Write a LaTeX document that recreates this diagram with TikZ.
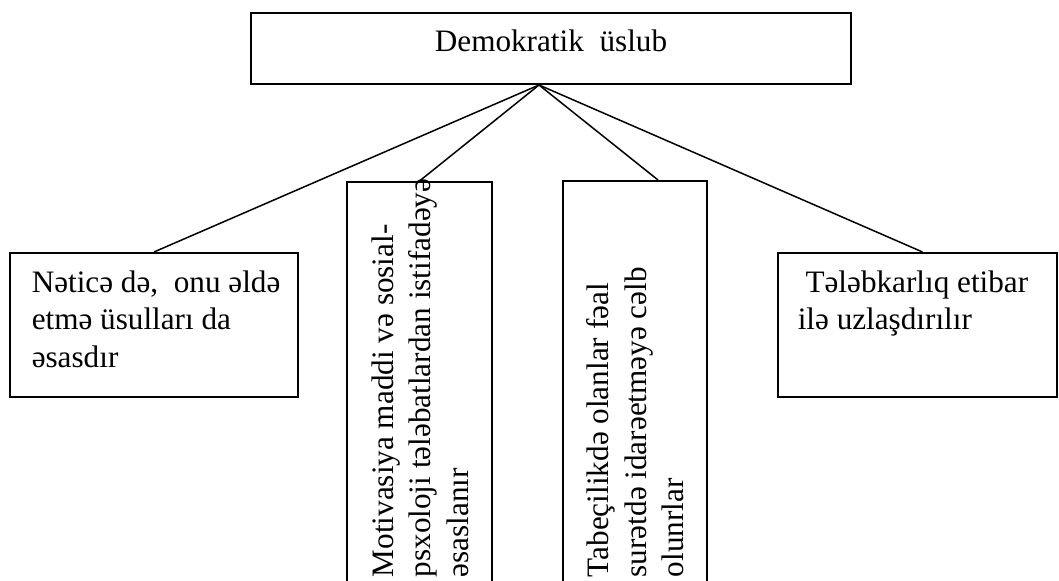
\documentclass[tikz,border=0pt]{standalone}
\usepackage{fontspec}
\setmainfont{Liberation Serif}
\tikzset{every picture/.style={line width=.75pt}}

\begin{document}
\begin{tikzpicture}[x=.5pt,y=-.5pt,
  every node/.style={font=\fontsize{15.6}{18.7}\selectfont},
  box/.style={draw=black,line width=1pt,inner sep=0pt},
  txt/.style={inner sep=0pt,align=left,anchor=north west},
  vtxt/.style={txt,rotate=90},
  spoke/.style={black,line width=.75pt}]

  \useasboundingbox (0,0) rectangle (1059,581);
  \clip (0,0) rectangle (1059,581);

  % Head box and the four branches.
  \node[box,minimum width=300pt,minimum height=35.5pt,text depth=7.75pt]
    (top) at (551,48.5) {Demokratik\ \ üslub};
  \node[box,minimum width=144pt,minimum height=72pt] (b1) at (154,325) {};
  \node[box,minimum width=72.5pt,minimum height=259pt] (b2) at (419.5,441) {};
  \node[box,minimum width=72pt,minimum height=259.5pt] (b3) at (635,440.5) {};
  \node[box,minimum width=139.5pt,minimum height=72pt] (b4) at (917.5,325) {};

  % Box texts; the two middle ones run upwards.
  \node[txt] (t1) at (31,270)
    {Nəticə də,\ \ onu əldə\\etmə üsulları da\\əsasdır};
  \node[vtxt] (t2) at (371,578)
    {Motivasiya maddi və sosial-\\psxoloji tələbatlardan istifadəyə\\əsaslanır};
  \node[vtxt] (t3) at (586,578)
    {Tabeçilikdə olanlar fəal\\surətdə idarəetməyə cəlb\\olunrlar};
  \node[txt] (t4) at (797,270)
    {\ Tələbkarlıq etibar\\ilə uzlaşdırılır};

  \coordinate (apex) at ([xshift=-6pt]top.south);
  \draw[spoke] (apex)--(b1.north);
  \draw[spoke] (apex)--(b2.north);
  \draw[spoke] (apex)--([xshift=11.5pt]b3.north);
  \draw[spoke] (apex)--([xshift=2.5pt]b4.north);
\end{tikzpicture}
\end{document}
